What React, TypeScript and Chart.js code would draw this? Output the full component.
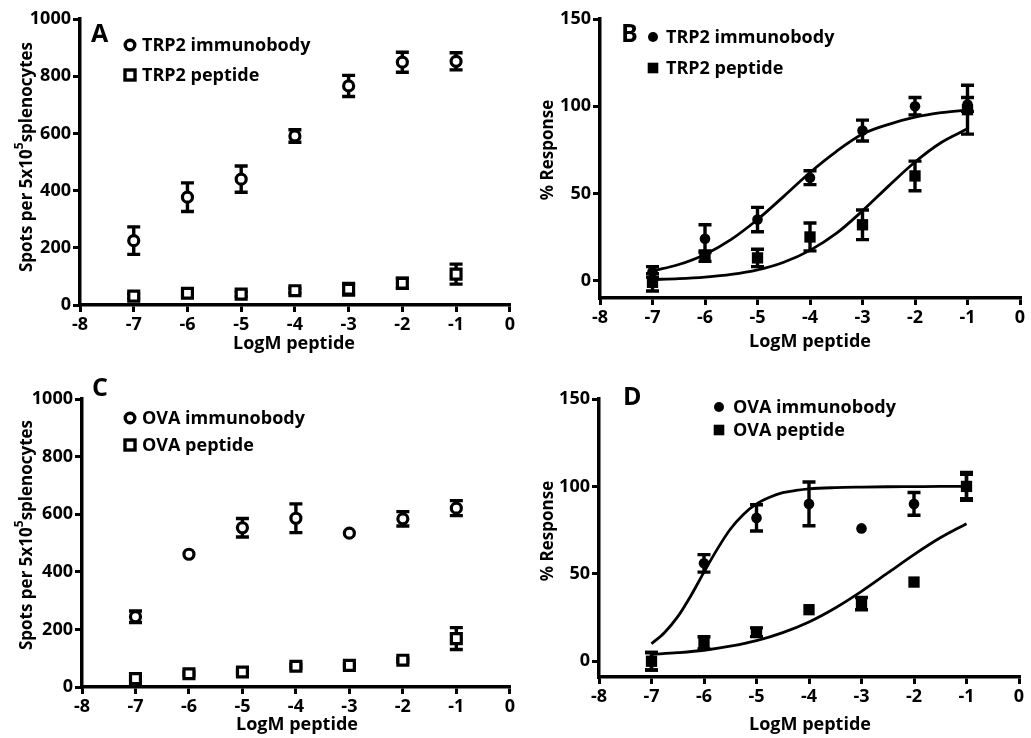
import React, { useEffect, useRef } from "react";
import { Chart, registerables } from "chart.js";
Chart.register(...registerables);

const FONT = "'Open Sans', 'Noto Sans', sans-serif";

// ---- shared axes ----
const doses = [-7, -6, -5, -4, -3, -2, -1];
const xTicks = [-8, -7, -6, -5, -4, -3, -2, -1, 0];
const spotTicks = [0, 200, 400, 600, 800, 1000];
const respTicks = [0, 50, 100, 150];

// ---- Panel A: TRP2 spots ----
const trp2ImmunoSpots = [225, 377, 440, 591, 766, 849, 852];
const trp2ImmunoSpotsErr = [48, 50, 46, 22, 37, 35, 30];
const trp2PeptideSpots = [31, 41, 38, 50, 55, 76, 108];
const trp2PeptideSpotsErr = [8, 8, 8, 8, 20, 18, 35];

// ---- Panel B: TRP2 % response ----
const trp2ImmunoResp = [5, 24, 35, 59, 86, 100, 101];
const trp2ImmunoRespErr = [3, 8, 7, 4, 6, 5, 4];
const trp2PeptideResp = [-1, 14, 13, 25, 32, 60, 98];
const trp2PeptideRespErr = [5, 3, 5, 8, 8.5, 8.5, 14];
const trp2FitX = [-7, -6.5, -6, -5.5, -5, -4.5, -4, -3.5, -3, -2.5, -2, -1.5, -1];
const trp2ImmunoFit = [5.5, 9.2, 15, 23.6, 35, 48.3, 62, 74, 84, 89.6, 93.7, 96.3, 97.8];
const trp2PeptideFit = [0.6, 1.1, 2, 3.5, 6.1, 10.5, 17.3, 27, 40, 54.3, 68, 79.2, 87];

// ---- Panel C: OVA spots ----
const ovaImmunoSpots = [244, 461, 553, 586, 534, 584, 621];
const ovaImmunoSpotsErr = [20, 0, 32, 50, 0, 25, 26];
const ovaPeptideSpots = [29, 46, 52, 72, 75, 93, 168];
const ovaPeptideSpotsErr = [6, 6, 6, 6, 6, 6, 38];

// ---- Panel D: OVA % response ----
const ovaImmunoResp = [0, 56, 82, 90, 76, 90, 100];
const ovaImmunoRespErr = [5, 5, 7.5, 12.5, 0, 6.5, 8];
const ovaPeptideResp = [0, 10.5, 16.6, 29.5, 33, 45.3, 100];
const ovaPeptideRespErr = [5, 3.5, 2.5, 0, 3.5, 0, 7];
const ovaImmunoFitX = [-7, -6.75, -6.5, -6.25, -6, -5.75, -5.5, -5.25, -5, -4.75, -4.5, -4.25, -4, -3.5, -3, -2.5, -2, -1.5, -1];
const ovaImmunoFit = [10, 16.5, 25.5, 37.5, 51, 64, 75.5, 84, 90, 93.8, 96.4, 97.7, 98.6, 99.3, 99.6, 99.8, 99.9, 100, 100];
const ovaPeptideFitX = [-7, -6.5, -6, -5.5, -5, -4.5, -4, -3.5, -3, -2.5, -2, -1.5, -1];
const ovaPeptideFit = [3.9, 4.9, 6.3, 8.6, 11.8, 16.4, 22.5, 30.5, 40, 50.5, 61, 70.6, 78.7];

const pts = (xs: number[], ys: number[]) => xs.map((x, i) => ({ x, y: ys[i] }));

const errorBarPlugin = {
  id: "errorBars",
  beforeDatasetsDraw(chart: any) {
    const ctx = chart.ctx;
    const xs = chart.scales.x;
    const ys = chart.scales.y;
    chart.data.datasets.forEach((ds: any) => {
      if (!ds.errors) return;
      ds.data.forEach((p: any, j: number) => {
        const e = ds.errors[j];
        if (!e) return;
        const px = xs.getPixelForValue(p.x);
        const top = ys.getPixelForValue(p.y + e);
        const bot = ys.getPixelForValue(p.y - e);
        const cap = 6.5;
        ctx.save();
        ctx.strokeStyle = "#000";
        ctx.lineWidth = 3.4;
        ctx.beginPath();
        ctx.moveTo(px, top);
        ctx.lineTo(px, bot);
        ctx.moveTo(px - cap, top);
        ctx.lineTo(px + cap, top);
        ctx.moveTo(px - cap, bot);
        ctx.lineTo(px + cap, bot);
        ctx.stroke();
        ctx.restore();
      });
    });
  },
};

function drawMarker(ctx: CanvasRenderingContext2D, kind: string, x: number, y: number) {
  ctx.save();
  ctx.strokeStyle = "#000";
  ctx.fillStyle = "#000";
  if (kind === "openCircle") {
    ctx.lineWidth = 3.4;
    ctx.fillStyle = "#fff";
    ctx.beginPath();
    ctx.arc(x, y, 4.8, 0, Math.PI * 2);
    ctx.fill();
    ctx.stroke();
  } else if (kind === "openSquare") {
    ctx.lineWidth = 3.4;
    ctx.fillStyle = "#fff";
    ctx.fillRect(x - 5, y - 5, 10, 10);
    ctx.strokeRect(x - 5, y - 5, 10, 10);
  } else if (kind === "filledCircle") {
    ctx.beginPath();
    ctx.arc(x, y, 5, 0, Math.PI * 2);
    ctx.fill();
  } else {
    ctx.fillRect(x - 5.3, y - 5.3, 10.6, 10.6);
  }
  ctx.restore();
}

const textPlugin = {
  id: "panelText",
  afterDraw(chart: any, _args: any, o: any) {
    const ctx = chart.ctx as CanvasRenderingContext2D;
    ctx.save();
    ctx.fillStyle = "#000";
    ctx.textBaseline = "middle";
    // letter
    ctx.font = `700 25px ${FONT}`;
    ctx.textAlign = "left";
    ctx.fillText(o.letter, o.letterX, o.letterY);
    // legend
    ctx.font = `700 18px ${FONT}`;
    o.legend.forEach((l: any) => {
      drawMarker(ctx, l.kind, l.mx, l.y);
      ctx.fillText(l.text, l.tx, l.y + 1);
    });
    // x title
    ctx.font = `700 18px ${FONT}`;
    ctx.textAlign = "center";
    ctx.fillText("LogM peptide", o.xTitleX, o.xTitleY);
    // y title
    ctx.translate(o.yTitleX, o.yTitleY);
    ctx.rotate(-Math.PI / 2);
    if (o.ySup) {
      const big = `700 17px ${FONT}`;
      const small = `700 12px ${FONT}`;
      const p1 = "Spots per 5x10";
      const p2 = "5";
      const p3 = "splenocytes";
      ctx.font = big;
      const w1 = ctx.measureText(p1).width;
      const w3 = ctx.measureText(p3).width;
      ctx.font = small;
      const w2 = ctx.measureText(p2).width;
      const total = w1 + w2 + w3;
      let cx = -total / 2;
      ctx.textAlign = "left";
      ctx.font = big;
      ctx.fillText(p1, cx, 0);
      cx += w1;
      ctx.font = small;
      ctx.fillText(p2, cx, -7);
      cx += w2;
      ctx.font = big;
      ctx.fillText(p3, cx, 0);
    } else {
      ctx.font = `700 17px ${FONT}`;
      ctx.textAlign = "center";
      ctx.fillText(o.yTitle, 0, 0);
    }
    ctx.restore();
  },
};

function axis(min: number, max: number, ticks: number[], fit: (s: any) => void) {
  return {
    type: "linear",
    min,
    max,
    afterBuildTicks: (s: any) => {
      s.ticks = ticks.map((v) => ({ value: v }));
    },
    afterFit: fit,
    grid: {
      display: true,
      drawOnChartArea: false,
      drawTicks: true,
      tickLength: 7,
      tickColor: "#000",
      tickWidth: 3,
      color: "#000",
      lineWidth: 3,
    },
    border: { display: true, color: "#000", width: 3.5 },
    ticks: {
      color: "#000",
      padding: 2,
      font: { family: FONT, size: 18, weight: "700" },
      callback: (v: any) => String(v),
    },
  };
}

type PanelCfg = {
  datasets: any[];
  yMin: number;
  yMax: number;
  yTicks: number[];
  yWidth: number;
  xHeight: number;
  padTop: number;
  padRight: number;
  text: any;
};

function Panel({ cfg, style }: { cfg: PanelCfg; style: React.CSSProperties }) {
  const ref = useRef<HTMLCanvasElement>(null);
  useEffect(() => {
    const chart = new Chart(ref.current as HTMLCanvasElement, {
      type: "scatter",
      data: { datasets: cfg.datasets },
      options: {
        animation: false,
        responsive: false,
        maintainAspectRatio: false,
        layout: { padding: { left: 0, top: cfg.padTop, right: cfg.padRight, bottom: 0 } },
        plugins: {
          legend: { display: false },
          tooltip: { enabled: false },
          panelText: cfg.text,
        } as any,
        scales: {
          x: axis(-8, 0, xTicks, (s: any) => {
            s.height = cfg.xHeight;
          }),
          y: axis(cfg.yMin, cfg.yMax, cfg.yTicks, (s: any) => {
            s.width = cfg.yWidth;
          }),
        } as any,
      },
      plugins: [errorBarPlugin, textPlugin],
    } as any);
    return () => chart.destroy();
  }, []);
  return (
    <canvas
      ref={ref}
      width={style.width as number}
      height={style.height as number}
      style={{ position: "absolute", ...style }}
    />
  );
}

const openCircle = (data: any[], errors: number[]) => ({
  data,
  errors,
  pointStyle: "circle",
  pointRadius: 5,
  pointBorderWidth: 3.2,
  pointBackgroundColor: "#fff",
  pointBorderColor: "#000",
  showLine: false,
});
const openSquare = (data: any[], errors: number[]) => ({
  data,
  errors,
  pointStyle: "rect",
  pointRadius: 7,
  pointBorderWidth: 3.2,
  pointBackgroundColor: "#fff",
  pointBorderColor: "#000",
  showLine: false,
});
const filledCircle = (data: any[], errors: number[]) => ({
  data,
  errors,
  pointStyle: "circle",
  pointRadius: 5.3,
  pointBorderWidth: 0,
  pointBackgroundColor: "#000",
  pointBorderColor: "#000",
  showLine: false,
});
const filledSquare = (data: any[], errors: number[]) => ({
  data,
  errors,
  pointStyle: "rect",
  pointRadius: 8,
  pointBorderWidth: 0,
  pointBackgroundColor: "#000",
  pointBorderColor: "#000",
  showLine: false,
});
const fitLine = (data: any[]) => ({
  data,
  showLine: true,
  pointRadius: 0,
  borderColor: "#000",
  borderWidth: 2.8,
  cubicInterpolationMode: "monotone",
  fill: false,
});

const panelA: PanelCfg = {
  datasets: [
    openSquare(pts(doses, trp2PeptideSpots), trp2PeptideSpotsErr),
    openCircle(pts(doses, trp2ImmunoSpots), trp2ImmunoSpotsErr),
  ],
  yMin: 0,
  yMax: 1000,
  yTicks: spotTicks,
  yWidth: 80,
  xHeight: 60,
  padTop: 19,
  padRight: 10,
  text: {
    letter: "A",
    letterX: 91,
    letterY: 35,
    legend: [
      { kind: "openCircle", mx: 130, tx: 142, y: 45, text: "TRP2 immunobody" },
      { kind: "openSquare", mx: 130, tx: 142, y: 75, text: "TRP2 peptide" },
    ],
    xTitleX: 294,
    xTitleY: 344,
    yTitleX: 27,
    yTitleY: 157,
    ySup: true,
  },
};

const panelB: PanelCfg = {
  datasets: [
    fitLine(pts(trp2FitX, trp2ImmunoFit)),
    fitLine(pts(trp2FitX, trp2PeptideFit)),
    filledSquare(pts(doses, trp2PeptideResp), trp2PeptideRespErr),
    filledCircle(pts(doses, trp2ImmunoResp), trp2ImmunoRespErr),
  ],
  yMin: -10,
  yMax: 150,
  yTicks: respTicks,
  yWidth: 80,
  xHeight: 67,
  padTop: 19,
  padRight: 11,
  text: {
    letter: "B",
    letterX: 101,
    letterY: 35,
    legend: [
      { kind: "filledCircle", mx: 133, tx: 146, y: 37, text: "TRP2 immunobody" },
      { kind: "filledSquare", mx: 133, tx: 146, y: 68, text: "TRP2 peptide" },
    ],
    xTitleX: 290,
    xTitleY: 342,
    yTitleX: 28,
    yTitleY: 150,
    yTitle: "% Response",
  },
};

const panelC: PanelCfg = {
  datasets: [
    openSquare(pts(doses, ovaPeptideSpots), ovaPeptideSpotsErr),
    openCircle(pts(doses, ovaImmunoSpots), ovaImmunoSpotsErr),
  ],
  yMin: 0,
  yMax: 1000,
  yTicks: spotTicks,
  yWidth: 82,
  xHeight: 51,
  padTop: 34,
  padRight: 8,
  text: {
    letter: "C",
    letterX: 92,
    letterY: 24,
    legend: [
      { kind: "openCircle", mx: 130, tx: 142, y: 53, text: "OVA immunobody" },
      { kind: "openSquare", mx: 130, tx: 142, y: 80, text: "OVA peptide" },
    ],
    xTitleX: 297,
    xTitleY: 360,
    yTitleX: 27,
    yTitleY: 170,
    ySup: true,
  },
};

const panelD: PanelCfg = {
  datasets: [
    fitLine(pts(ovaImmunoFitX, ovaImmunoFit)),
    fitLine(pts(ovaPeptideFitX, ovaPeptideFit)),
    filledSquare(pts(doses, ovaPeptideResp), ovaPeptideRespErr),
    filledCircle(pts(doses, ovaImmunoResp), ovaImmunoRespErr),
  ],
  yMin: -9,
  yMax: 150,
  yTicks: respTicks,
  yWidth: 79,
  xHeight: 61,
  padTop: 34,
  padRight: 12,
  text: {
    letter: "D",
    letterX: 103,
    letterY: 33,
    legend: [
      { kind: "filledCircle", mx: 199, tx: 213, y: 42, text: "OVA immunobody" },
      { kind: "filledSquare", mx: 199, tx: 213, y: 65, text: "OVA peptide" },
    ],
    xTitleX: 290,
    xTitleY: 360,
    yTitleX: 28,
    yTitleY: 166,
    yTitle: "% Response",
  },
};

export default function App() {
  return (
    <div
      style={{
        position: "fixed",
        left: 0,
        top: 0,
        width: 1031,
        height: 738,
        background: "#fff",
        overflow: "hidden",
      }}
    >
      <Panel cfg={panelA} style={{ left: 0, top: 0, width: 520, height: 365 }} />
      <Panel cfg={panelB} style={{ left: 520, top: 0, width: 511, height: 365 }} />
      <Panel cfg={panelC} style={{ left: 0, top: 365, width: 520, height: 373 }} />
      <Panel cfg={panelD} style={{ left: 520, top: 365, width: 511, height: 373 }} />
    </div>
  );
}
